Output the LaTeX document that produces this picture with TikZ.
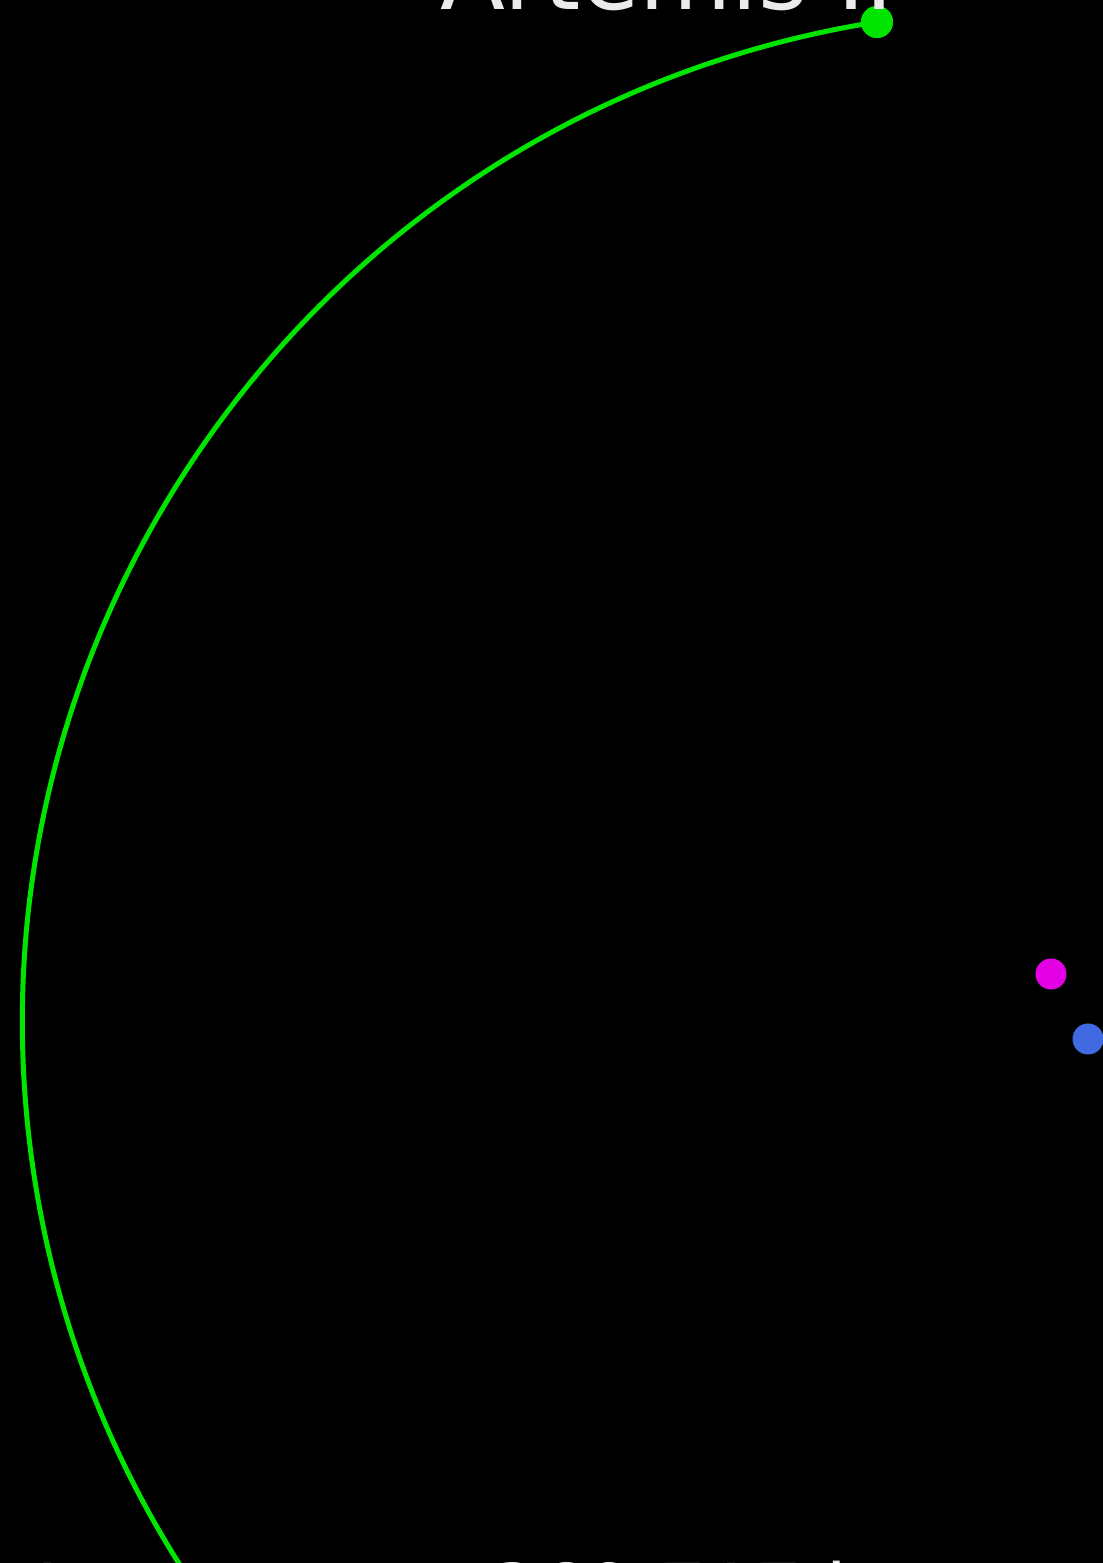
\documentclass[tikz,border=0pt]{standalone}
\usepackage{fontspec}
\setmainfont{DejaVu Sans}
\usetikzlibrary{positioning}
\definecolor{trackgreen}{RGB}{0,228,0}
\definecolor{moonpink}{RGB}{228,0,228}
\definecolor{earthblue}{RGB}{65,105,225}
\definecolor{readgrey}{RGB}{235,235,235}
\tikzset{
  craft/.style={circle, fill=trackgreen, minimum size=0.64cm, inner sep=0pt},
  body/.style={circle, minimum size=0.62cm, inner sep=0pt},
  track/.style={draw=trackgreen, line width=0.1cm},
  readout/.style={text=readgrey, inner sep=0pt}
}
\begin{document}
\begin{tikzpicture}
  % frame and black sky
  \useasboundingbox (0,0) rectangle (22.06,31.26);
  \clip (0,0) rectangle (22.06,31.26);
  \fill[black] (0,0) rectangle (22.06,31.26);

  % spacecraft, moon and earth
  \node[craft] (orion) at (17.54,30.82) {};
  \node[body, fill=moonpink] (moon) at (21.02,11.78) {};
  \node[body, fill=earthblue] (earth) at (21.76,10.48) {};

  % trajectory
  \draw[track] (orion.center) arc[start angle=99, end angle=216, radius=20.26];
  \node[craft] at (orion) {};

  % labels cut by the frame
  \node[readout, font=\fontsize{54}{60}\selectfont, anchor=base] (name) at (13.34,31.06) {Artemis II};
  \node[readout, font=\fontsize{43}{48}\selectfont, anchor=base west] (dist) at (9.8,-1.12) {369,717 km};
  \node[readout, font=\fontsize{43}{48}\selectfont, anchor=base west] (left) at (0.45,-1.12) {1};
\end{tikzpicture}
\end{document}
